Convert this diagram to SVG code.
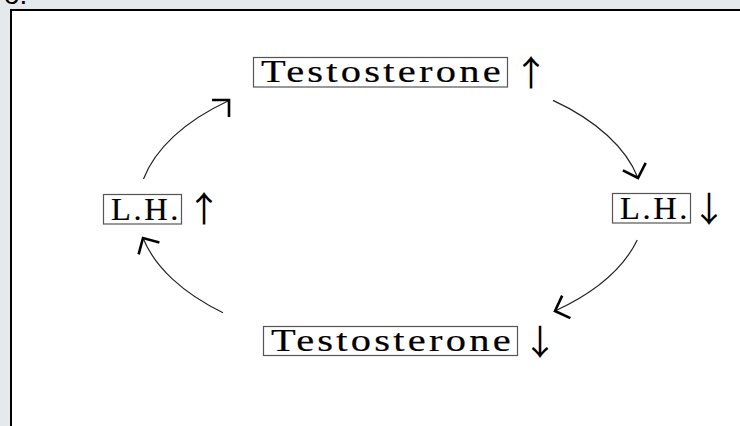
<svg xmlns="http://www.w3.org/2000/svg" xmlns:xlink="http://www.w3.org/1999/xlink" width="740" height="426" viewBox="0 0 740 426">
<style>
.lbl{font-family:"Liberation Serif","Times New Roman",serif;font-size:31px;fill:#000;stroke:#000;stroke-width:0.2;letter-spacing:2.5px}
.sym{font-family:"Noto Sans CJK JP","DejaVu Sans",sans-serif;font-size:35px;fill:#000;text-anchor:middle}
.box{fill:#fff;stroke:#555;stroke-width:1.2}
.arc{fill:none;stroke:#222;stroke-width:1.2}
.head{fill:none;stroke:#000;stroke-width:2.6;stroke-linejoin:miter}
</style>
<defs>
<path id="ah" d="M-12,-12 L0,0 L-12,12"/>
</defs>
<rect x="0" y="0" width="740" height="426" fill="#e6e9eb"/>
<text x="4" y="4" font-family="Liberation Sans, Arial, sans-serif" font-size="28" fill="#000">o.</text>
<rect x="11" y="10" width="740" height="430" fill="#fff" stroke="#000" stroke-width="2"/>

<g id="testo-up">
<rect class="box" x="253.5" y="57.5" width="254" height="29.5"/>
<text class="lbl" x="261" y="82" textLength="243" lengthAdjust="spacingAndGlyphs">Testosterone</text>
<text class="sym" x="531" y="86">↑</text>
</g>
<g id="lh-down">
<rect class="box" x="612.5" y="193.5" width="78" height="29.5"/>
<text class="lbl" x="620" y="218.5" textLength="70" lengthAdjust="spacingAndGlyphs">L.H.</text>
<text class="sym" x="709" y="222">↓</text>
</g>
<g id="testo-down">
<rect class="box" x="263.5" y="326.5" width="254" height="29"/>
<text class="lbl" x="271" y="351" textLength="243" lengthAdjust="spacingAndGlyphs">Testosterone</text>
<text class="sym" x="540" y="355">↓</text>
</g>
<g id="lh-up">
<rect class="box" x="103.5" y="194.5" width="78" height="29.5"/>
<text class="lbl" x="111" y="219.5" textLength="70" lengthAdjust="spacingAndGlyphs">L.H.</text>
<text class="sym" x="204" y="222">↑</text>
</g>

<g id="connectors">
<path class="arc" d="M143.5,179 A253,140 0 0 1 228,101"/>
<path class="arc" d="M553,100.4 A253,140 0 0 1 638,178"/>
<path class="arc" d="M637.3,240 A253,140 0 0 1 555,311"/>
<path class="arc" d="M223,312.7 A253,140 0 0 1 143,238"/>
<use xlink:href="#ah" class="head" transform="translate(229,100) rotate(-45)"/>
<use xlink:href="#ah" class="head" transform="translate(638,178) rotate(72)"/>
<use xlink:href="#ah" class="head" transform="translate(555,311) rotate(160)"/>
<use xlink:href="#ah" class="head" transform="translate(143,238) rotate(240)"/>
</g>
</svg>
